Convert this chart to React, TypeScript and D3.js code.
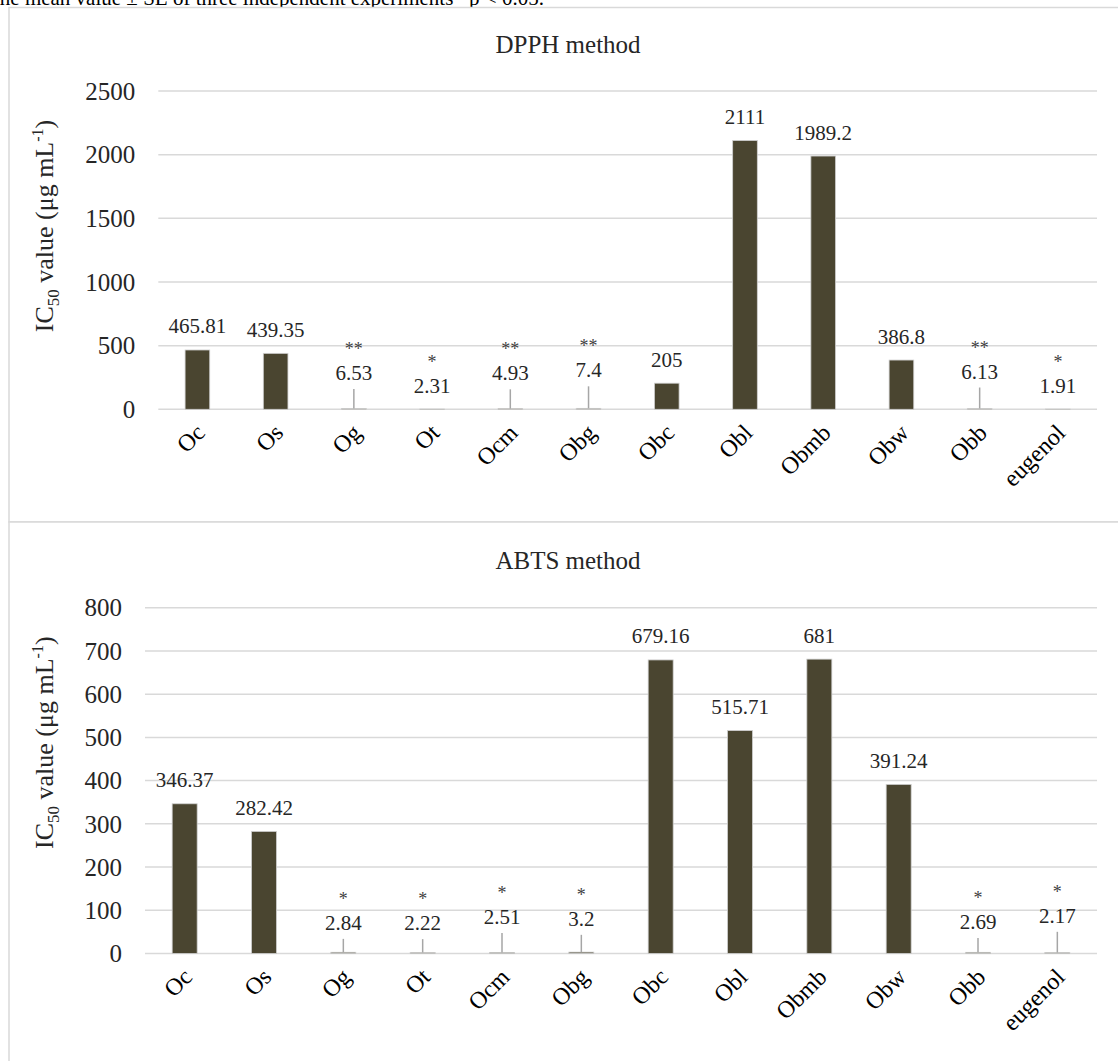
import React from "react";
import * as d3 from "d3";

const categories = ["Oc", "Os", "Og", "Ot", "Ocm", "Obg", "Obc", "Obl", "Obmb", "Obw", "Obb", "eugenol"];

const dpphValues = [465.81, 439.35, 6.53, 2.31, 4.93, 7.4, 205, 2111, 1989.2, 386.8, 6.13, 1.91];
const dpphErrors = [0, 0, 152, 0, 152, 173, 0, 0, 0, 0, 165, 0];
const dpphSig = ["", "", "**", "*", "**", "**", "", "", "", "", "**", "*"];
const dpphTicks = [0, 500, 1000, 1500, 2000, 2500];

const abtsValues = [346.37, 282.42, 2.84, 2.22, 2.51, 3.2, 679.16, 515.71, 681, 391.24, 2.69, 2.17];
const abtsErrors = [0, 0, 31, 31, 45, 40, 0, 0, 0, 0, 33, 48];
const abtsSig = ["", "", "*", "*", "*", "*", "", "", "", "", "*", "*"];
const abtsTicks = [0, 100, 200, 300, 400, 500, 600, 700, 800];

const caption = "The mean value \u00b1 SE of three independent experiments *p < 0.05.";

const FONT = "Liberation Serif";
const BAR = "#4a4530";
const GRID = "#d9d9d9";

type PanelProps = {
  title: string;
  values: number[];
  errors: number[];
  sig: string[];
  ticks: number[];
  frameTop: number;
  frameBottom: number;
  x0: number;
  x1: number;
  yTop: number;
  yBottom: number;
};

function Panel(p: PanelProps) {
  const max = p.ticks[p.ticks.length - 1];
  const x = d3.scaleBand<string>().domain(categories).range([p.x0, p.x1]).padding(0);
  const y = d3.scaleLinear().domain([0, max]).range([p.yBottom, p.yTop]);
  const bw = x.bandwidth() * 0.315;
  const midY = p.yTop + 135;
  return (
    <g style={{ fontFamily: FONT }}>
      <rect x={9} y={p.frameTop} width={1120} height={p.frameBottom - p.frameTop} fill="#fff" stroke={GRID} strokeWidth={1.5} />
      <text x={568} y={p.yTop - 38.5} textAnchor="middle" fontSize={25} fill="#262626">{p.title}</text>
      {p.ticks.map((t) => (
        <g key={t}>
          <line x1={p.x0} x2={p.x1} y1={y(t)} y2={y(t)} stroke={GRID} strokeWidth={1.5} />
          <text x={p.x0 - 23} y={y(t)} dy="0.35em" textAnchor="end" fontSize={25} fill="#262626">{t}</text>
        </g>
      ))}
      <text transform={`translate(53,${midY}) rotate(-90)`} textAnchor="middle" fontSize={26} fill="#262626">
        IC<tspan fontSize={17} dy="6">50</tspan><tspan dy="-6"> value (μg mL</tspan><tspan fontSize={16} dy="-10">-1</tspan><tspan dy="10">)</tspan>
      </text>
      {categories.map((c, i) => {
        const cx = (x(c) as number) + x.bandwidth() / 2;
        const v = p.values[i];
        const e = p.errors[i];
        const labelY = e > 0 ? y(v + e) - 9 : y(v) - 16.5;
        return (
          <g key={c}>
            <rect x={cx - bw / 2} y={y(v)} width={bw} height={Math.max(0, p.yBottom - y(v))} fill={BAR} stroke="#cfcfcf" strokeWidth={0.8} />
            {e > 0 && <line x1={cx} x2={cx} y1={y(v)} y2={y(v + e)} stroke="#a6a6a6" strokeWidth={1.5} />}
            <text x={cx} y={labelY} textAnchor="middle" fontSize={21} fill="#262626">{String(v)}</text>
            {p.sig[i] && (
              <text x={cx} y={labelY - 25} textAnchor="middle" fontSize={18} fill="#404040">{p.sig[i]}</text>
            )}
            <text transform={`translate(${cx + 3},${p.yBottom + 19}) rotate(-45)`} dy="0.35em" textAnchor="end" fontSize={24} fill="#000">{c}</text>
          </g>
        );
      })}
    </g>
  );
}

export default function App() {
  return (
    <svg width={1118} height={1061} style={{ position: "absolute", left: 0, top: 0, background: "#fff" }}>
      <rect x={0} y={0} width={1118} height={1061} fill="#fff" />
      <text x={-13} y={5} fontSize={21} fill="#000" style={{ fontFamily: FONT }}>{caption}</text>
      <Panel title="DPPH method" values={dpphValues} errors={dpphErrors} sig={dpphSig} ticks={dpphTicks}
        frameTop={7.5} frameBottom={522} x0={158.3} x1={1097} yTop={91} yBottom={409.3} />
      <Panel title="ABTS method" values={abtsValues} errors={abtsErrors} sig={abtsSig} ticks={abtsTicks}
        frameTop={522} frameBottom={1070} x0={145} x1={1097} yTop={607.7} yBottom={953.5} />
    </svg>
  );
}
